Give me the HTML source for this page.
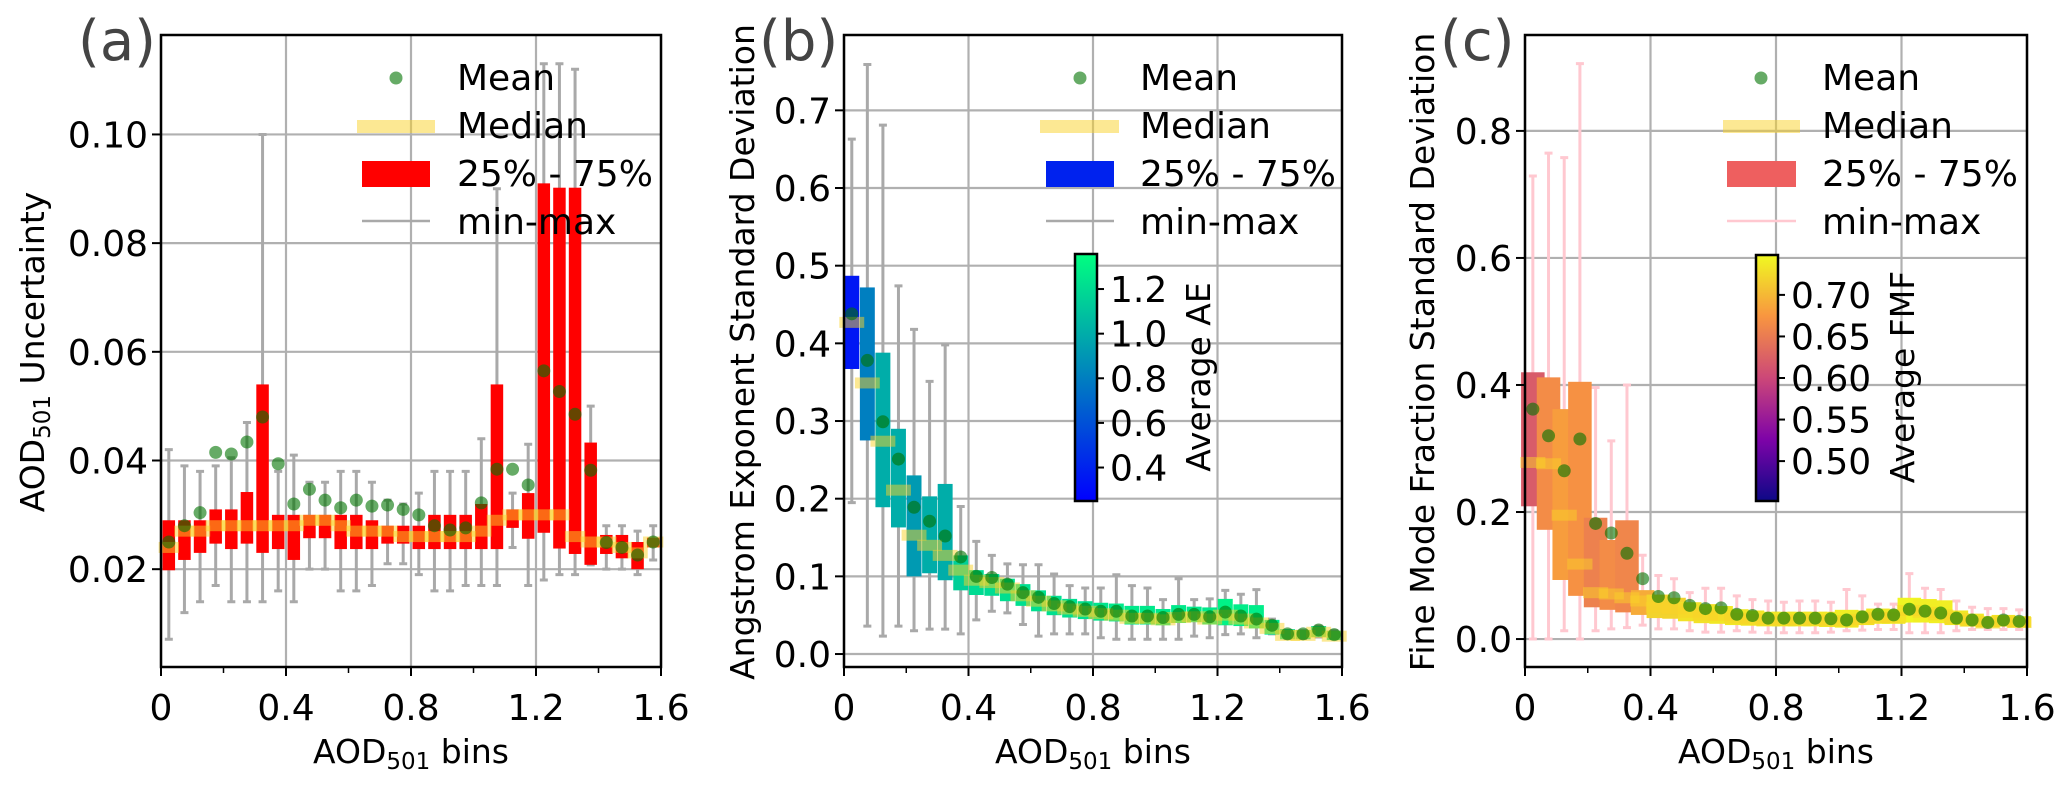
<!DOCTYPE html>
<html><head><meta charset="utf-8"><style>
html,body{margin:0;padding:0;background:#fff;}
svg text{font-family:"DejaVu Sans","Liberation Sans",sans-serif;}
</style></head><body>
<svg id="fig" xmlns="http://www.w3.org/2000/svg" width="2067" height="782" viewBox="0 0 2067 782"></svg>
<script>
// ---- Panel (a) data ----
const aMean=[0.025,0.028,0.0304,0.0415,0.0412,0.0434,0.048,0.0394,0.032,0.0347,0.0327,0.0313,0.0327,0.0316,0.0318,0.031,0.030,0.028,0.0272,0.0276,0.0322,0.0384,0.0384,0.0355,0.0565,0.0527,0.0485,0.0382,0.0249,0.024,0.0226,0.025];
const aMedian=[0.024,0.027,0.027,0.028,0.028,0.028,0.028,0.028,0.028,0.029,0.029,0.028,0.027,0.027,0.027,0.026,0.026,0.026,0.026,0.026,0.027,0.029,0.030,0.030,0.030,0.030,0.026,0.025,0.025,0.024,0.023,0.025];
const aQ25=[0.0198,0.0217,0.023,0.0247,0.0237,0.0247,0.023,0.0237,0.0217,0.0257,0.0257,0.0237,0.0237,0.0237,0.0247,0.0247,0.0237,0.0237,0.0237,0.0237,0.0237,0.0237,0.0276,0.0256,0.0267,0.0238,0.0228,0.0208,0.0228,0.022,0.020,0.024];
const aQ75=[0.029,0.029,0.029,0.031,0.031,0.0342,0.054,0.030,0.030,0.030,0.030,0.030,0.030,0.029,0.028,0.028,0.028,0.030,0.030,0.030,0.032,0.054,0.031,0.034,0.091,0.0902,0.0902,0.0433,0.0263,0.0263,0.025,0.0258];
const aMin=[0.0071,0.012,0.014,0.017,0.014,0.014,0.014,0.016,0.014,0.020,0.020,0.016,0.016,0.017,0.021,0.021,0.019,0.016,0.016,0.017,0.017,0.017,0.024,0.017,0.018,0.019,0.019,0.0208,0.020,0.020,0.019,0.0217];
const aMax=[0.042,0.039,0.038,0.039,0.0405,0.047,0.10,0.038,0.041,0.036,0.036,0.038,0.038,0.036,0.0327,0.032,0.034,0.038,0.038,0.038,0.044,0.090,0.034,0.043,0.113,0.113,0.112,0.050,0.028,0.028,0.027,0.028];
const aYTicks=[0.02,0.04,0.06,0.08,0.10];
const aYLabels=["0.02","0.04","0.06","0.08","0.10"];
// ---- Panel (b) data ----
const bMean=[0.438,0.378,0.299,0.251,0.189,0.171,0.152,0.125,0.100,0.0985,0.090,0.079,0.073,0.065,0.061,0.058,0.055,0.055,0.049,0.049,0.047,0.051,0.051,0.048,0.054,0.049,0.045,0.037,0.026,0.026,0.031,0.025];
const bMedian=[0.427,0.349,0.274,0.211,0.153,0.140,0.127,0.108,0.095,0.092,0.085,0.075,0.068,0.062,0.058,0.055,0.052,0.050,0.046,0.046,0.044,0.047,0.048,0.045,0.050,0.045,0.040,0.033,0.024,0.024,0.028,0.023];
const bQ75=[0.487,0.472,0.388,0.290,0.230,0.203,0.219,0.127,0.108,0.103,0.097,0.090,0.082,0.075,0.071,0.068,0.066,0.065,0.062,0.062,0.058,0.063,0.061,0.060,0.071,0.064,0.063,0.044,0.032,0.031,0.036,0.030];
const bQ25=[0.367,0.275,0.189,0.163,0.100,0.104,0.095,0.082,0.076,0.075,0.068,0.062,0.055,0.050,0.047,0.045,0.043,0.042,0.038,0.038,0.037,0.040,0.041,0.038,0.037,0.036,0.033,0.025,0.019,0.019,0.022,0.018];
const bMin=[0.195,0.036,0.023,0.036,0.030,0.032,0.032,0.026,0.044,0.055,0.053,0.038,0.023,0.026,0.026,0.026,0.021,0.019,0.019,0.019,0.019,0.019,0.023,0.021,0.025,0.026,0.021,0.026,0.020,0.020,0.022,0.020];
const bMax=[0.663,0.759,0.681,0.474,0.418,0.351,0.398,0.190,0.145,0.127,0.116,0.115,0.115,0.103,0.088,0.085,0.085,0.102,0.088,0.085,0.070,0.097,0.070,0.071,0.082,0.077,0.083,0.045,0.030,0.030,0.036,0.030];
const bAE=[0.35,0.80,1.00,1.00,0.92,1.00,1.00,1.15,1.20,1.20,1.22,1.22,1.22,1.22,1.22,1.22,1.24,1.26,1.26,1.26,1.26,1.26,1.26,1.26,1.30,1.28,1.28,1.26,1.20,1.20,1.20,1.20];
const bYTicks=[0,0.1,0.2,0.3,0.4,0.5,0.6,0.7];
const bYLabels=["0.0","0.1","0.2","0.3","0.4","0.5","0.6","0.7"];
const bCbTicks=[0.4,0.6,0.8,1.0,1.2];
const bCbLabels=["0.4","0.6","0.8","1.0","1.2"];
// ---- Panel (c) data ----
const cMean=[0.362,0.320,0.265,0.315,0.182,0.167,0.135,0.095,0.067,0.065,0.053,0.048,0.049,0.039,0.037,0.033,0.033,0.033,0.033,0.032,0.030,0.035,0.039,0.038,0.047,0.044,0.041,0.033,0.030,0.026,0.030,0.028];
const cMedian=[0.278,0.276,0.195,0.118,0.073,0.071,0.065,0.060,0.050,0.048,0.042,0.038,0.037,0.033,0.031,0.030,0.030,0.030,0.030,0.029,0.028,0.031,0.034,0.034,0.045,0.042,0.038,0.032,0.028,0.025,0.028,0.026];
const cQ75=[0.420,0.412,0.362,0.405,0.191,0.156,0.187,0.077,0.070,0.065,0.058,0.055,0.052,0.047,0.045,0.043,0.043,0.043,0.043,0.043,0.046,0.045,0.048,0.047,0.065,0.063,0.061,0.045,0.040,0.036,0.038,0.036];
const cQ25=[0.209,0.172,0.093,0.068,0.050,0.046,0.042,0.038,0.033,0.032,0.028,0.025,0.024,0.022,0.021,0.020,0.020,0.020,0.020,0.019,0.018,0.022,0.024,0.024,0.026,0.026,0.025,0.022,0.020,0.018,0.020,0.018];
const cMin=[0,0,0.013,0,0.013,0.016,0.018,0.022,0.016,0.016,0.013,0.011,0.011,0.013,0.011,0.010,0.010,0.010,0.010,0.011,0.013,0.014,0.015,0.015,0.010,0.010,0.010,0.013,0.015,0.015,0.015,0.015];
const cMax=[0.729,0.765,0.758,0.906,0.396,0.312,0.400,0.132,0.100,0.095,0.073,0.080,0.080,0.068,0.062,0.060,0.058,0.060,0.060,0.058,0.078,0.068,0.055,0.055,0.103,0.080,0.078,0.060,0.050,0.048,0.048,0.046];
const cFMF=[0.62,0.665,0.68,0.67,0.655,0.665,0.66,0.69,0.72,0.72,0.73,0.73,0.735,0.735,0.735,0.735,0.735,0.735,0.735,0.735,0.74,0.735,0.735,0.735,0.745,0.74,0.74,0.735,0.735,0.735,0.735,0.735];
const cYTicks=[0,0.2,0.4,0.6,0.8];
const cYLabels=["0.0","0.2","0.4","0.6","0.8"];
const cCbTicks=[0.50,0.55,0.60,0.65,0.70];
const cCbLabels=["0.50","0.55","0.60","0.65","0.70"];
// shared x
const xTicks=[0,0.4,0.8,1.2,1.6];
const xLabels=["0","0.4","0.8","1.2","1.6"];
const xMinor=[0.2,0.6,1.0,1.4];
const binWidth=0.05;

const svg=document.getElementById('fig');
const NS='http://www.w3.org/2000/svg';
function el(tag,attrs,parent){const e=document.createElementNS(NS,tag);for(const k in attrs)e.setAttribute(k,attrs[k]);(parent||svg).appendChild(e);return e;}
function lerpC(stops,t){t=Math.max(0,Math.min(1,t));const n=stops.length-1;const i=Math.min(n-1,Math.floor(t*n));const f=t*n-i;const a=stops[i],b=stops[i+1];return 'rgb('+[0,1,2].map(k=>Math.round(a[k]+(b[k]-a[k])*f)).join(',')+')';}
const winter=[[0,0,255],[0,255,128]];
const plasma=[[13,8,135],[126,3,168],[204,71,120],[248,149,64],[240,249,33]];

function panel(cfg){
  const g=el('g',{});
  
  
  const X=v=>cfg.x0+(v-0)/(1.6)*(cfg.x1-cfg.x0);
  const Y=v=>cfg.y1-(v-cfg.ymin)/(cfg.ymax-cfg.ymin)*(cfg.y1-cfg.y0);
  xTicks.forEach(t=>{const l=el('line',{x1:X(t),x2:X(t),y1:cfg.y0,y2:cfg.y1,stroke:'#b0b0b0','stroke-width':2.2},g);});
  cfg.yt.forEach(t=>{const l=el('line',{x1:cfg.x0,x2:cfg.x1,y1:Y(t),y2:Y(t),stroke:'#b0b0b0','stroke-width':2.2},g);});
  const n=cfg.mean.length;
  for(let i=0;i<n;i++){const c=X(binWidth*(i+0.5));
    const w=el('path',{d:`M${c},${Y(cfg.min[i])}V${Y(cfg.max[i])}M${c-4},${Y(cfg.min[i])}h8M${c-4},${Y(cfg.max[i])}h8`,stroke:cfg.wcol,'stroke-width':3,fill:'none'},g);
    }
  for(let i=0;i<n;i++){const c=X(binWidth*(i+0.5));const hw=(X(cfg.bw)-X(0))/2;
    const r=el('rect',{x:c-hw,y:Y(cfg.q75[i]),width:2*hw,height:Y(cfg.q25[i])-Y(cfg.q75[i]),fill:cfg.color(i)},g);
    }
  for(let i=0;i<n;i++){const c=X(binWidth*(i+0.5));const hw=(X(cfg.mw)-X(0))/2;
    const r=el('rect',{x:c-hw,y:Y(cfg.med[i])-5.5,width:2*hw,height:11,fill:'rgba(250,210,40,0.5)'},g);
    }
  for(let i=0;i<n;i++){const c=X(binWidth*(i+0.5));
    const d=el('circle',{cx:c,cy:Y(cfg.mean[i]),r:6.5,fill:'rgba(0,115,0,0.6)'},g);
    }
  const f=el('rect',{x:cfg.x0,y:cfg.y0,width:cfg.x1-cfg.x0,height:cfg.y1-cfg.y0,fill:'none',stroke:'#000','stroke-width':2.5},g);
  
  xTicks.forEach((t,i)=>{el('line',{x1:X(t),x2:X(t),y1:cfg.y1,y2:cfg.y1+9,stroke:'#000','stroke-width':2},g);
    const tx=el('text',{x:X(t),y:cfg.y1+53,'font-size':36,'text-anchor':'middle',fill:'#000'},g);tx.textContent=xLabels[i];
    });
  xMinor.forEach(t=>el('line',{x1:X(t),x2:X(t),y1:cfg.y1,y2:cfg.y1+6,stroke:'#000','stroke-width':1.5},g));
  cfg.yt.forEach((t,i)=>{el('line',{x1:cfg.x0-9,x2:cfg.x0,y1:Y(t),y2:Y(t),stroke:'#000','stroke-width':2},g);
    const tx=el('text',{x:cfg.x0-13,y:Y(t)+13,'font-size':36,'text-anchor':'end',fill:'#000'},g);tx.textContent=cfg.yl[i];
    });
  const xl=el('text',{x:(cfg.x0+cfg.x1)/2,y:763,'font-size':33,'text-anchor':'middle',fill:'#000'},g);
  xl.innerHTML='AOD<tspan font-size="23" dy="6">501</tspan><tspan dy="-6"> bins</tspan>';
  
  const yl=el('text',{x:0,y:0,'font-size':33,'text-anchor':'middle',fill:'#000',transform:`translate(${cfg.ylx},${cfg.yly}) rotate(-90)`},g);
  yl.innerHTML=cfg.ytitle;
  
  const pl=el('text',{x:cfg.plx,y:60,'font-size':56,fill:'#444'},g);pl.textContent=cfg.letter;
  
  const L=cfg.leg;
  const lg=el('g',{},g);
  const c1=el('circle',{cx:L.dot,cy:78,r:6.5,fill:'rgba(0,115,0,0.6)'},lg);
  const m1=el('rect',{x:L.mx,y:120,width:L.mw,height:13,fill:'rgba(250,210,40,0.5)'},lg);
  const b1=el('rect',{x:L.bx,y:161,width:L.bw,height:26,fill:L.bcol},lg);
  const w1=el('line',{x1:L.bx,x2:L.bx+L.bw,y1:221,y2:221,stroke:cfg.wcol,'stroke-width':2.5},lg);
  ['Mean','Median','25% - 75%','min-max'].forEach((s,i)=>{const t=el('text',{x:L.tx,y:90+48*i,'font-size':36,fill:'#000'},lg);t.textContent=s;
    });
  return {X,Y,g};
}

panel({name:'panel-a',x0:161,x1:661,y0:35,y1:667,ymin:0.002,ymax:0.1183,yt:aYTicks,yl:aYLabels,
  mean:aMean,med:aMedian,q25:aQ25,q75:aQ75,min:aMin,max:aMax,bw:0.04,mw:0.065,wcol:'#a9a9a9',
  color:()=>'#ff0000',ylx:44,yly:352,ytitle:'AOD<tspan font-size="23" dy="6">501</tspan><tspan dy="-6"> Uncertainty</tspan>',
  letter:'(a)',plx:78,leg:{dot:396,mx:357,mw:78,bx:362,bw:68,bcol:'#ff0000',tx:457}});
panel({name:'panel-b',x0:844,x1:1342,y0:35,y1:667,ymin:-0.0167,ymax:0.797,yt:bYTicks,yl:bYLabels,
  mean:bMean,med:bMedian,q25:bQ25,q75:bQ75,min:bMin,max:bMax,bw:0.048,mw:0.08,wcol:'#a9a9a9',
  color:i=>lerpC(winter,(bAE[i]-0.25)/(1.357-0.25)),ylx:754,yly:352,ytitle:'Angstrom Exponent Standard Deviation',
  letter:'(b)',plx:759,leg:{dot:1080,mx:1040,mw:79,bx:1046,bw:68,bcol:'#0022ee',tx:1140}});
panel({name:'panel-c',x0:1525,x1:2027,y0:35,y1:667,ymin:-0.044,ymax:0.951,yt:cYTicks,yl:cYLabels,
  mean:cMean,med:cMedian,q25:cQ25,q75:cQ75,min:cMin,max:cMax,bw:0.075,mw:0.08,wcol:'#ffc8d0',
  color:i=>lerpC(plasma,(cFMF[i]-0.452)/(0.748-0.452)),ylx:1434,yly:352,ytitle:'Fine Mode Fraction Standard Deviation',
  letter:'(c)',plx:1440,leg:{dot:1761,mx:1723,mw:77,bx:1727,bw:69,bcol:'#ee5f5f',tx:1822}});

function colorbar(name,x,y0,y1,vmin,vmax,stops,ticks,labels,title,tx){
  const g=el('g',{});
  const id=name+'-grad';
  const defs=el('defs',{},g);const lg=el('linearGradient',{id:id,x1:0,y1:1,x2:0,y2:0},defs);
  stops.forEach((s,i)=>el('stop',{offset:i/(stops.length-1),'stop-color':`rgb(${s.join(',')})`},lg));
  el('rect',{x:x,y:y0,width:22,height:y1-y0,fill:`url(#${id})`,stroke:'#000','stroke-width':2.5},g);
  const Y=v=>y1-(v-vmin)/(vmax-vmin)*(y1-y0);
  ticks.forEach((t,i)=>{el('line',{x1:x+22,x2:x+29,y1:Y(t),y2:Y(t),stroke:'#000','stroke-width':2},g);
    const s=el('text',{x:x+35,y:Y(t)+13,'font-size':36,fill:'#000'},g);s.textContent=labels[i];
    });
  const t=el('text',{x:0,y:0,'font-size':33,'text-anchor':'middle',fill:'#000',transform:`translate(${tx},377) rotate(-90)`},g);t.textContent=title;
  
}
colorbar('colorbar-ae',1075,254,501,0.25,1.357,winter,bCbTicks,bCbLabels,'Average AE',1210);
colorbar('colorbar-fmf',1756,255,501,0.452,0.748,plasma,cCbTicks,cCbLabels,'Average FMF',1914);
</script>
</body></html>
